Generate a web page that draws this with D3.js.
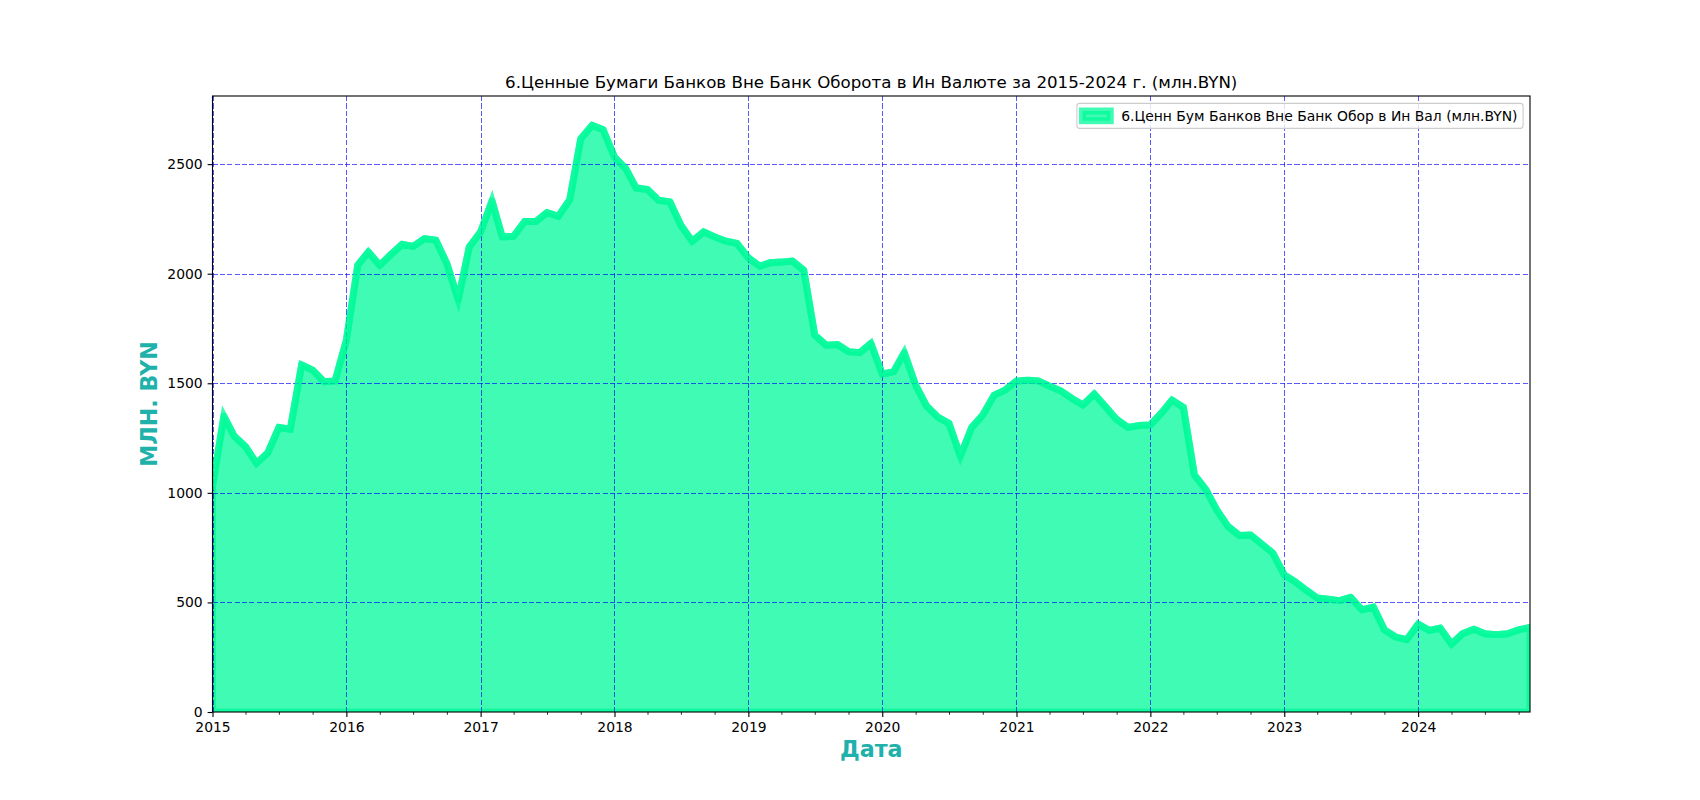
<!DOCTYPE html>
<html>
<head>
<meta charset="utf-8">
<script src="https://cdn.jsdelivr.net/npm/d3@7"></script>
<style>
  html, body { margin: 0; padding: 0; background: #fff; }
  svg { display: block; font-family: "DejaVu Sans", sans-serif; }
</style>
</head>
<body>
<svg id="chart" width="1700" height="800"></svg>
<script>
// ---- data ----
const startMonth = "2015-01-01";
const endMonth = "2024-11-01";
const values = [
  1030, 1350, 1259, 1211, 1135, 1183, 1299, 1290, 1584, 1560, 1507, 1510,
  1697, 2039, 2099, 2039, 2087, 2134, 2125, 2160, 2153, 2046, 1882, 2122,
  2191, 2332, 2168, 2171, 2238, 2238, 2279, 2262, 2338, 2616, 2677, 2657,
  2532, 2479, 2391, 2384, 2335, 2328, 2221, 2148, 2191, 2168, 2148, 2138,
  2072, 2034, 2050, 2053, 2058, 2016, 1720, 1674, 1677, 1644, 1640, 1682,
  1542, 1553, 1640, 1492, 1396, 1345, 1317, 1168, 1299, 1355, 1446, 1469,
  1510, 1514, 1511, 1487, 1466, 1431, 1401, 1451, 1393, 1335, 1299, 1307,
  1310, 1366, 1423, 1390, 1082, 1016, 922, 846, 805, 808, 766, 725,
  626, 593, 557, 520, 515, 508, 523, 466, 479, 375, 342, 330,
  401, 372, 383, 310, 357, 378, 357, 353, 357, 375, 386
];
const yTicks = [0, 500, 1000, 1500, 2000, 2500];
const xTickYears = ["2015","2016","2017","2018","2019","2020","2021","2022","2023","2024"];
const titleText = "6.Ценные Бумаги Банков Вне Банк Оборота в Ин Валюте за 2015-2024 г. (млн.BYN)";
const legendText = "6.Ценн Бум Банков Вне Банк Обор в Ин Вал (млн.BYN)";
const xLabelText = "Дата";
const yLabelText = "МЛН. BYN";

// ---- layout ----
const W = 1700, H = 800;
const L = 212.5, R = 1530, T = 96, B = 712;
const baseColor = "rgba(0,250,154,0.75)";
const labelColor = "#20B2AA";
const lw = 5 * 100 / 72;

const months = d3.utcMonth.range(new Date(startMonth), d3.utcMonth.offset(new Date(endMonth), 1));
const data = months.map((d, i) => ({ date: d, v: values[i] }));

const svg = d3.select("#chart");
svg.append("rect").attr("width", W).attr("height", H).attr("fill", "#fff");

const x = d3.scaleUtc().domain([months[0], months[months.length - 1]]).range([L, R]);
const y = d3.scaleLinear().domain([0, d3.max(values) * 1.05]).range([B, T]);

svg.append("defs").append("clipPath").attr("id", "clip")
  .append("rect").attr("x", L).attr("y", T).attr("width", R - L).attr("height", B - T);

const plot = svg.append("g").attr("clip-path", "url(#clip)");

// area polygon (fill + edge)
const area = d3.area().x(d => x(d.date)).y0(y(0)).y1(d => y(d.v));
plot.append("path")
  .attr("d", area(data) + "Z")
  .attr("fill", baseColor)
  .attr("stroke", baseColor)
  .attr("stroke-width", lw)
  .attr("stroke-linejoin", "miter");

// grid
const gridG = plot.append("g").attr("shape-rendering", "crispEdges");
const snap = v => Math.round(v) + 0.5;
yTicks.forEach(t => {
  gridG.append("line")
    .attr("x1", L).attr("x2", R).attr("y1", snap(y(t))).attr("y2", snap(y(t)))
    .attr("stroke", "blue").attr("stroke-opacity", 0.65)
    .attr("stroke-width", 1).attr("stroke-dasharray", "5.14,2.22");
});
xTickYears.forEach(yr => {
  const xx = snap(x(new Date(yr + "-01-01")));
  gridG.append("line")
    .attr("x1", xx).attr("x2", xx).attr("y1", T).attr("y2", B)
    .attr("stroke", "blue").attr("stroke-opacity", 0.65)
    .attr("stroke-width", 1).attr("stroke-dasharray", "5.14,2.22");
});

// line
const line = d3.line().x(d => x(d.date)).y(d => y(d.v));
plot.append("path")
  .attr("d", line(data))
  .attr("fill", "none")
  .attr("stroke", baseColor)
  .attr("stroke-width", lw)
  .attr("stroke-linejoin", "round")
  .attr("stroke-linecap", "square");

// axes
const xAxis = d3.axisBottom(x)
  .tickValues(xTickYears.map(s => new Date(s + "-01-01")))
  .tickFormat(d3.utcFormat("%Y"))
  .tickSizeInner(4.9).tickSizeOuter(0).tickPadding(4.9);
const gx = svg.append("g").attr("transform", `translate(0,${B})`).call(xAxis);
gx.select(".domain").remove();
gx.selectAll("text").attr("font-size", "13.9px").attr("font-family", "DejaVu Sans").attr("fill", "#000");
gx.selectAll("line").attr("stroke", "#000").attr("stroke-width", 1.1);

const minorTicks = d3.utcMonth.every(3).range(months[0], d3.utcMonth.offset(months[months.length - 1], 1))
  .filter(d => d.getUTCMonth() !== 0);
const gxm = svg.append("g").attr("transform", `translate(0,${B})`)
  .call(d3.axisBottom(x).tickValues(minorTicks).tickFormat("").tickSizeInner(2.8).tickSizeOuter(0));
gxm.select(".domain").remove();
gxm.selectAll("line").attr("stroke", "#000").attr("stroke-width", 0.8);

const yAxis = d3.axisLeft(y).tickValues(yTicks).tickFormat(d3.format("d"))
  .tickSizeInner(4.9).tickSizeOuter(0).tickPadding(4.9);
const gy = svg.append("g").attr("transform", `translate(${L},0)`).call(yAxis);
gy.select(".domain").remove();
gy.selectAll("text").attr("font-size", "13.9px").attr("font-family", "DejaVu Sans").attr("fill", "#000");
gy.selectAll("line").attr("stroke", "#000").attr("stroke-width", 1.1);

// spines
svg.append("rect").attr("x", L).attr("y", T).attr("width", R - L).attr("height", B - T)
  .attr("fill", "none").attr("stroke", "#000").attr("stroke-width", 1.1);

// title
svg.append("text").attr("x", (L + R) / 2).attr("y", 88.3)
  .attr("text-anchor", "middle").attr("font-size", "16.67px").attr("fill", "#000")
  .text(titleText);

// axis labels
svg.append("text").attr("x", (L + R) / 2).attr("y", 757)
  .attr("text-anchor", "middle").attr("font-size", "22.2px").attr("font-weight", "bold")
  .attr("fill", labelColor).text(xLabelText);
svg.append("text").attr("transform", `translate(157.3,${(T + B) / 2}) rotate(-90)`)
  .attr("text-anchor", "middle").attr("font-size", "22.2px").attr("font-weight", "bold")
  .attr("fill", labelColor).text(yLabelText);

// legend
const lg = svg.append("g");
const lgText = lg.append("text").attr("x", 1121).attr("y", 120.6)
  .attr("font-size", "13.9px").attr("fill", "#000").text(legendText);
const tw = lgText.node().getComputedTextLength();
const boxR = R - 6.9;
const boxW = (1121 + tw + 5.6) - 1076.7;
lg.insert("rect", "text").attr("x", boxR - boxW).attr("y", 103.4).attr("width", boxW).attr("height", 25)
  .attr("rx", 2.8).attr("fill", "rgba(255,255,255,0.8)").attr("stroke", "#ccc").attr("stroke-width", 1.1);
const shift = (boxR - boxW) - 1076.7;
lgText.attr("x", 1121 + shift);
lg.append("rect").attr("x", 1082.3 + shift).attr("y", 111).attr("width", 27.8).attr("height", 9.7)
  .attr("fill", baseColor).attr("stroke", baseColor).attr("stroke-width", lw);
</script>
</body>
</html>
